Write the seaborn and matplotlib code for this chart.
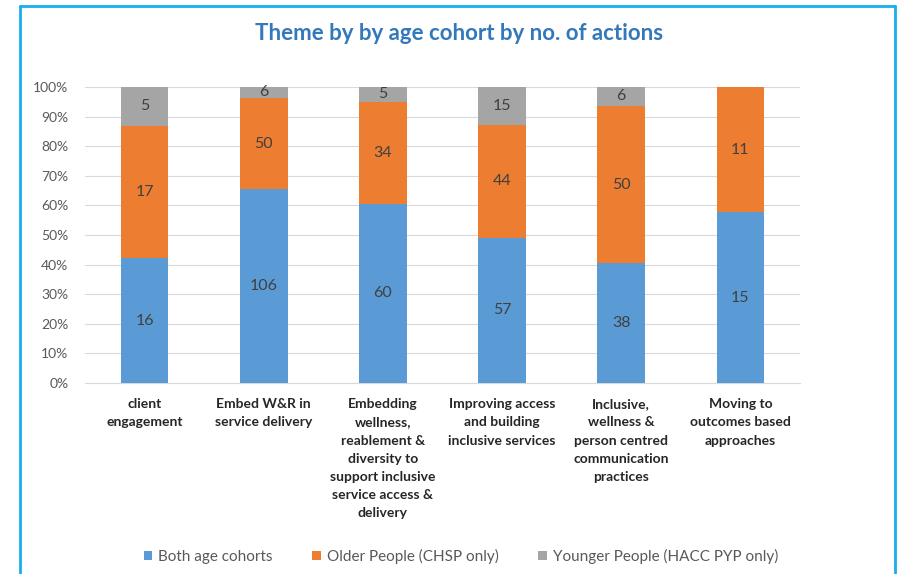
import matplotlib
matplotlib.use("Agg")
import matplotlib.pyplot as plt
from matplotlib.lines import Line2D
from matplotlib.patches import Patch
import numpy as np
import pandas as pd
import seaborn as sns

# Themes and action counts per age cohort
themes = [
    "client\nengagement",
    "Embed W&R in\nservice delivery",
    "Embedding\nwellness,\nreablement &\ndiversity to\nsupport inclusive\nservice access &\ndelivery",
    "Improving access\nand building\ninclusive services",
    "Inclusive,\nwellness &\nperson centred\ncommunication\npractices",
    "Moving to\noutcomes based\napproaches",
]
both_cohorts = [16, 106, 60, 57, 38, 15]
older_people = [17, 50, 34, 44, 50, 11]
younger_people = [5, 6, 5, 15, 6, 0]

series_names = ["Both age cohorts", "Older People (CHSP only)", "Younger People (HACC PYP only)"]
colors = ["#5B9BD5", "#ED7D31", "#A5A5A5"]

sns.set_theme(style="white")
plt.rcParams["font.family"] = ["Lato", "DejaVu Sans"]

counts = np.array([both_cohorts, older_people, younger_people], dtype=float)
totals = counts.sum(axis=0)
shares = counts / totals * 100
cum = np.cumsum(shares, axis=0)

df = pd.DataFrame({"theme": themes})
for i in range(3):
    df[f"cum{i}"] = cum[i]

fig = plt.figure(figsize=(8.99, 5.74), dpi=100)
ax = fig.add_axes([85 / 899, 1 - 383 / 574, (800 - 85) / 899, (383 - 87) / 574])

# Stacked 100% bars: draw cumulative layers from the top down
for i in [2, 1, 0]:
    sns.barplot(data=df, x="theme", y=f"cum{i}", color=colors[i], width=0.4,
                saturation=1, ax=ax, zorder=3, linewidth=0)

# Segment labels with the action counts
for j in range(len(themes)):
    base = 0.0
    for i in range(3):
        h = shares[i, j]
        if counts[i, j] > 0:
            ax.text(j, base + h / 2, f"{int(counts[i, j])}", ha="center", va="center",
                    fontsize=11.5, color="#404040", zorder=5)
        base += h

ax.set_ylim(0, 100)
ax.set_xlim(-0.5, len(themes) - 0.5)
ax.set_yticks(np.arange(0, 101, 10))
ax.set_yticklabels([f"{v}%" for v in range(0, 101, 10)], fontsize=10, color="#595959")
ax.set_xticks(range(len(themes)))
ax.set_xticklabels(themes, fontsize=10, fontweight="bold", color="#262626", linespacing=1.62)
ax.set_xlabel("")
ax.set_ylabel("")
ax.tick_params(axis="y", length=0, pad=12)
ax.tick_params(axis="x", length=0, pad=11)
ax.yaxis.grid(True, color="#D9D9D9", linewidth=0.8, zorder=0)
ax.set_axisbelow(True)
for s in ["top", "right", "left"]:
    ax.spines[s].set_visible(False)
ax.spines["bottom"].set_color("#D9D9D9")
ax.spines["bottom"].set_linewidth(0.8)

fig.text(459 / 899, 1 - 33 / 574, "Theme by by age cohort by no. of actions",
         ha="center", va="center", fontsize=16, fontweight="bold", color="#3278BA")

handles = [Patch(facecolor=c, edgecolor="none") for c in colors]
fig.legend(handles, series_names, loc="center", bbox_to_anchor=(461 / 899, 1 - 556 / 574),
           ncol=3, frameon=False, fontsize=11, labelcolor="#595959",
           handlelength=0.55, handleheight=0.55, handletextpad=0.4, columnspacing=2.6)

# Outer frame
frame_color = "#17AEEF"
x0, x1, y1 = 20 / 899, 895 / 899, 1 - 6 / 574
for xs, ys in [([x0, x0], [0, y1]), ([x0, x1], [y1, y1]), ([x1, x1], [y1, 0])]:
    fig.add_artist(Line2D(xs, ys, transform=fig.transFigure, color=frame_color, linewidth=2))

fig.savefig("out.png", dpi=100, facecolor="white")
